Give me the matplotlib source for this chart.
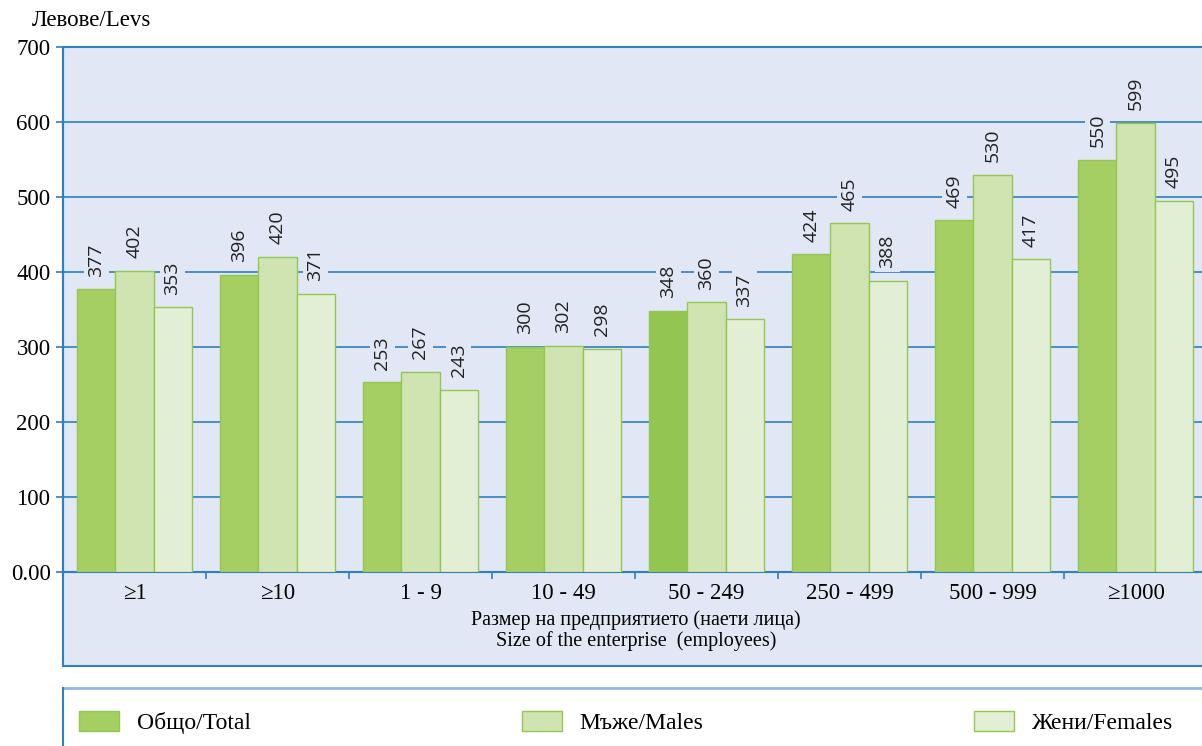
import matplotlib
matplotlib.use("Agg")
import matplotlib.pyplot as plt
import numpy as np
from matplotlib.patches import Rectangle, Patch
from matplotlib.lines import Line2D

# data
categories = ["≥1", "≥10", "1 - 9", "10 - 49", "50 - 249", "250 - 499", "500 - 999", "≥1000"]
total = [377, 396, 253, 300, 348, 424, 469, 550]
males = [402, 420, 267, 302, 360, 465, 530, 599]
females = [353, 371, 243, 298, 337, 388, 417, 495]
series_names = ["Общо/Total", "Мъже/Males", "Жени/Females"]
y_ticks = [0, 100, 200, 300, 400, 500, 600, 700]
y_tick_labels = ["0.00", "100", "200", "300", "400", "500", "600", "700"]

colors = ["#a5cf63", "#d0e4b1", "#e2efd5"]
edge = "#92c850"
bg = "#e1e7f5"
blue = "#2f7fc1"
serif = ["Liberation Serif", "DejaVu Serif"]

W, H = 1202, 746
fig = plt.figure(figsize=(W / 100, H / 100), dpi=100)

# shaded panel behind the plot and the axis title
panel = Rectangle((63 / W, 1 - 666 / H), (1210 - 63) / W, (666 - 47) / H,
                  transform=fig.transFigure, facecolor=bg, edgecolor=blue,
                  linewidth=1.5, zorder=-1)
fig.add_artist(panel)

ax = fig.add_axes([63 / W, 1 - 572 / H, (1207 - 63) / W, (572 - 47) / H])
ax.set_facecolor("none")

x = np.arange(len(categories))
w = 0.266
for i, vals in enumerate([total, males, females]):
    bars = ax.bar(x + (i - 1) * w, vals, width=w, color=colors[i],
                  edgecolor=edge, linewidth=1, zorder=3)
    if i == 0:
        bars[4].set_facecolor("#93c551")
    for xi, v in zip(x + (i - 1) * w, vals):
        ax.annotate(str(v), (xi, v), xytext=(0, 9), textcoords="offset points",
                    rotation=90, ha="center", va="bottom", fontsize=14,
                    family=["Open Sans", "DejaVu Sans"], color="#222222",
                    bbox=dict(boxstyle="square,pad=0.2", facecolor=bg, edgecolor="none"),
                    zorder=4)

ax.set_xlim(-0.5, len(categories) - 0.5)
ax.set_ylim(0, 700)
ax.set_yticks(y_ticks)
ax.set_yticklabels(y_tick_labels, family=serif, fontsize=16.5)
ax.yaxis.grid(True, color=blue, linewidth=1.2, zorder=1)
ax.set_axisbelow(True)

ax.set_xticks(x)
ax.set_xticklabels(categories, family=serif, fontsize=16.5)
ax.set_xticks(x[:-1] + 0.5, minor=True)
ax.tick_params(axis="x", which="major", length=0, pad=8)
ax.tick_params(axis="x", which="minor", length=5, color=blue, width=1.2)
ax.tick_params(axis="y", length=5, color=blue, width=1.2, pad=4)

for s in ["top", "right"]:
    ax.spines[s].set_visible(False)
ax.spines["left"].set_color(blue)
ax.spines["left"].set_linewidth(1.5)
ax.spines["bottom"].set_color(blue)
ax.spines["bottom"].set_linewidth(1.5)

fig.text(636 / W, 1 - 620 / H, "Размер на предприятието (наети лица)",
         ha="center", va="center", family=serif, fontsize=14.5)
fig.text(636 / W, 1 - 641 / H, "Size of the enterprise  (employees)",
         ha="center", va="center", family=serif, fontsize=14.5)
fig.text(32 / W, 1 - 20 / H, "Левове/Levs", ha="left", va="center",
         family=serif, fontsize=16.5)

# legend frame
fig.add_artist(Line2D([63 / W, 1], [1 - 688 / H] * 2, color="#8fb9e0",
                      linewidth=2, transform=fig.transFigure))
fig.add_artist(Line2D([63 / W] * 2, [0, 1 - 688 / H], color=blue,
                      linewidth=1.5, transform=fig.transFigure))

handles = [Patch(facecolor=c, edgecolor=edge, label=n)
           for c, n in zip(colors, series_names)]
fig.legend(handles=handles, loc="lower left", ncol=3, mode="expand",
           bbox_to_anchor=(79 / W, 1 - 734 / H, (1173 - 79) / W, 28 / H),
           frameon=False, prop={"family": serif, "size": 17},
           handlelength=1.7, handleheight=0.95, handletextpad=0.75,
           borderaxespad=0, borderpad=0)

fig.savefig("out.png", dpi=100)
